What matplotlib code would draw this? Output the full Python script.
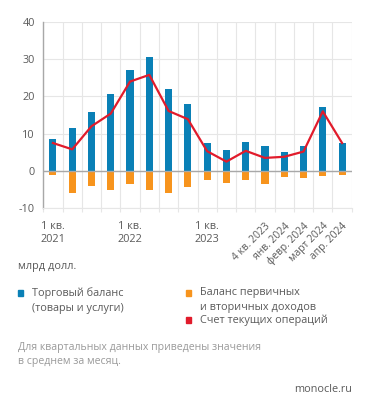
import matplotlib
matplotlib.use("Agg")
import matplotlib.pyplot as plt
import numpy as np

plt.rcParams['font.family'] = ['Open Sans', 'DejaVu Sans']

categories = ['1 кв.\n2021', '', '', '', '1 кв.\n2022', '', '', '', '1 кв.\n2023', '', '',
              '4 кв. 2023', 'янв. 2024', 'февр. 2024', 'март 2024', 'апр. 2024']
trade = [8.5, 11.5, 15.8, 20.6, 27.1, 30.5, 22.0, 18.0, 7.6, 5.7, 7.8, 6.8, 5.0, 6.8, 17.3, 7.6]
income = [-1.2, -5.9, -4.1, -5.2, -3.5, -5.0, -6.0, -4.3, -2.4, -3.3, -2.4, -3.4, -1.5, -1.8, -1.4, -1.2]
current = [7.5, 5.8, 12.0, 15.4, 24.0, 25.8, 16.1, 13.9, 5.3, 2.5, 5.4, 3.5, 3.8, 5.2, 16.0, 7.5]
yticks = [-10, 0, 10, 20, 30, 40]

BLUE = '#0a80b6'
ORANGE = '#f7941d'
RED = '#e11b2b'
GRID = '#e6e6e6'
TXT = '#5a5a5a'

fig = plt.figure(figsize=(3.71, 4.11), dpi=100)
ax = fig.add_axes([0.1167, 0.4935, 0.8313, 0.4530])

x = np.arange(len(categories))
w = 0.37
ax.bar(x, trade, width=w, color=BLUE, zorder=3)
ax.bar(x, income, width=w, color=ORANGE, zorder=3)
ax.plot(x, current, color=RED, lw=1.6, zorder=4)
ax.axhline(0, color='#a8a8a8', lw=1.0, zorder=3.5)

ax.set_xlim(-0.5, len(categories) - 0.5)
ax.set_ylim(-10, 40)
ax.set_yticks(yticks)
ax.set_yticklabels([str(v) for v in yticks], fontsize=7.8, color=TXT)
ax.yaxis.grid(True, color=GRID, lw=0.8, zorder=0)

ax.set_xticks(np.arange(-0.5, len(categories)), minor=True)
ax.xaxis.grid(True, which='minor', color=GRID, lw=0.8, zorder=0)
ax.tick_params(axis='x', which='minor', length=3, color=GRID, width=0.8)
ax.tick_params(axis='y', length=0, pad=6)
ax.set_xticks(x)
ax.set_xticklabels(categories, fontsize=7.8, color=TXT, linespacing=1.3)
ax.tick_params(axis='x', which='major', length=0, pad=9)
for i, lab in enumerate(ax.get_xticklabels()):
    lab.set_multialignment('center')
    if i >= 11:
        lab.set_rotation(45)
        lab.set_ha('right')
        lab.set_va('top')
        lab.set_rotation_mode('anchor')
        lab.set_fontsize(7.4)

for s in ['top', 'right']:
    ax.spines[s].set_visible(False)
ax.spines['left'].set_color('#a8a8a8')
ax.spines['left'].set_linewidth(1.0)
ax.spines['bottom'].set_color(GRID)
ax.spines['bottom'].set_linewidth(0.8)

H = 411.0
W = 371.0
def fx(px):
    return px / W
def fy(py):
    return 1 - py / H

fig.text(fx(18), fy(267), 'млрд долл.', fontsize=7.8, color=TXT, va='center')

sq = 5.5
def marker(px, py, color):
    fig.patches.append(plt.Rectangle((fx(px - sq / 2), fy(py + sq / 2)), sq / W, sq / H,
                                     transform=fig.transFigure, color=color, figure=fig))

marker(20.5, 293, BLUE)
fig.text(fx(32), fy(287.5), 'Торговый баланс\n(товары и услуги)', fontsize=7.8, color=TXT,
         va='top', linespacing=1.45)
marker(188.5, 293, ORANGE)
fig.text(fx(200), fy(287.5), 'Баланс первичных\nи вторичных доходов', fontsize=7.8, color=TXT,
         va='top', linespacing=1.45)
marker(188.5, 320, RED)
fig.text(fx(200), fy(320), 'Счет текущих операций', fontsize=7.8, color=TXT, va='center')

fig.text(fx(18), fy(341.5), 'Для квартальных данных приведены значения\nв среднем за месяц.',
         fontsize=7.6, color='#9a9a9a', va='top', linespacing=1.45)
fig.text(fx(352), fy(389), 'monocle.ru', fontsize=7.8, color=TXT, va='center', ha='right')

fig.savefig('out.png', dpi=100)
